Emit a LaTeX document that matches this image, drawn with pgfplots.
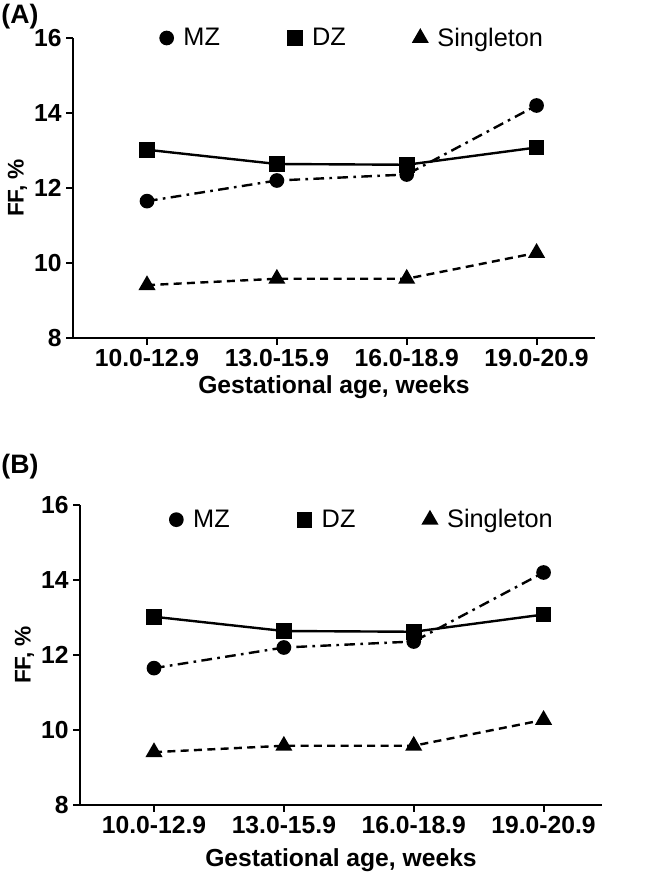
\documentclass[border=0pt]{standalone}
\usepackage{pgfplots}
\usepackage{pgfplotstable}
\pgfplotsset{compat=1.18}
\usepackage{fontspec}
\setmainfont{Liberation Sans}

\pgfplotstableread{
x MZ DZ S
0 11.65 13.02 9.41
1 12.20 12.64 9.58
2 12.36 12.62 9.58
3 14.20 13.08 10.27
}\datatable

\pgfplotsset{
 panel/.style={
  scale only axis, width=391.5pt, height=225pt,
  anchor=south west,
  xmin=-0.57, xmax=3.45, ymin=8, ymax=16,
  axis x line*=bottom, axis y line*=left,
  axis line style={line width=1.8pt,-},
  xtick={0,1,2,3}, xticklabels={10.0-12.9,13.0-15.9,16.0-18.9,19.0-20.9},
  ytick={8,10,12,14,16},
  tick align=outside, major tick length=5pt,
  tick style={line width=1.5pt,black},
  /pgf/number format/assume math mode=true,
  ticklabel style={font=\bfseries\fontsize{18.5}{21}\selectfont},
  label style={font=\bfseries\fontsize{18.5}{21}\selectfont},
  xlabel={Gestational age, weeks}, ylabel={FF, \%},
  ylabel style={font=\bfseries\fontsize{17}{20}\selectfont, yshift=-1.5pt},
  clip=false,
  legend columns=3,
  legend style={draw=none, fill=none, font=\fontsize{19}{22}\selectfont, anchor=west,
    /tikz/every odd column/.append style={column sep=6pt},
    /tikz/every even column/.append style={column sep=49pt}},
  legend image code/.code={\draw[#1] plot coordinates {(0pt,0pt)};},
 },
 mz/.style={black, line width=1.8pt, dash pattern=on 8pt off 4pt on 2pt off 4pt, mark=*, mark size=4.6pt, mark options={solid}},
 dz/.style={black, line width=1.8pt, solid, mark=square*, mark size=5pt, mark options={solid}},
 sg/.style={black, line width=1.8pt, dash pattern=on 6pt off 4pt, mark=triangle*, mark size=5.6pt, mark options={solid}},
}

\begin{document}
\begin{tikzpicture}
\useasboundingbox (0,0) rectangle (499.5pt,-663pt);
\node[font=\bfseries\fontsize{20}{23}\selectfont, anchor=center] at (15pt,-12.75pt) {(A)};
\node[font=\bfseries\fontsize{20}{23}\selectfont, anchor=center] at (15pt,-350pt) {(B)};

\begin{axis}[panel, at={(54.75pt,-253.5pt)},
  legend style={at={(rel axis cs:0.18,1)}, xshift=-8pt}]
\addplot[mz] table[x=x,y=MZ]{\datatable};
\addlegendentry{MZ}
\addplot[dz] table[x=x,y=DZ]{\datatable};
\addlegendentry{DZ}
\addplot[sg] table[x=x,y=S]{\datatable};
\addlegendentry{Singleton}
\end{axis}

\begin{axis}[panel, at={(60pt,-603.75pt)},
  xlabel style={yshift=-4pt},
  legend style={at={(rel axis cs:0.18,1)}, xshift=-6pt, yshift=-11pt}]
\addplot[mz] table[x=x,y=MZ]{\datatable};
\addlegendentry{MZ}
\addplot[dz] table[x=x,y=DZ]{\datatable};
\addlegendentry{DZ}
\addplot[sg] table[x=x,y=S]{\datatable};
\addlegendentry{Singleton}
\end{axis}
\end{tikzpicture}
\end{document}
